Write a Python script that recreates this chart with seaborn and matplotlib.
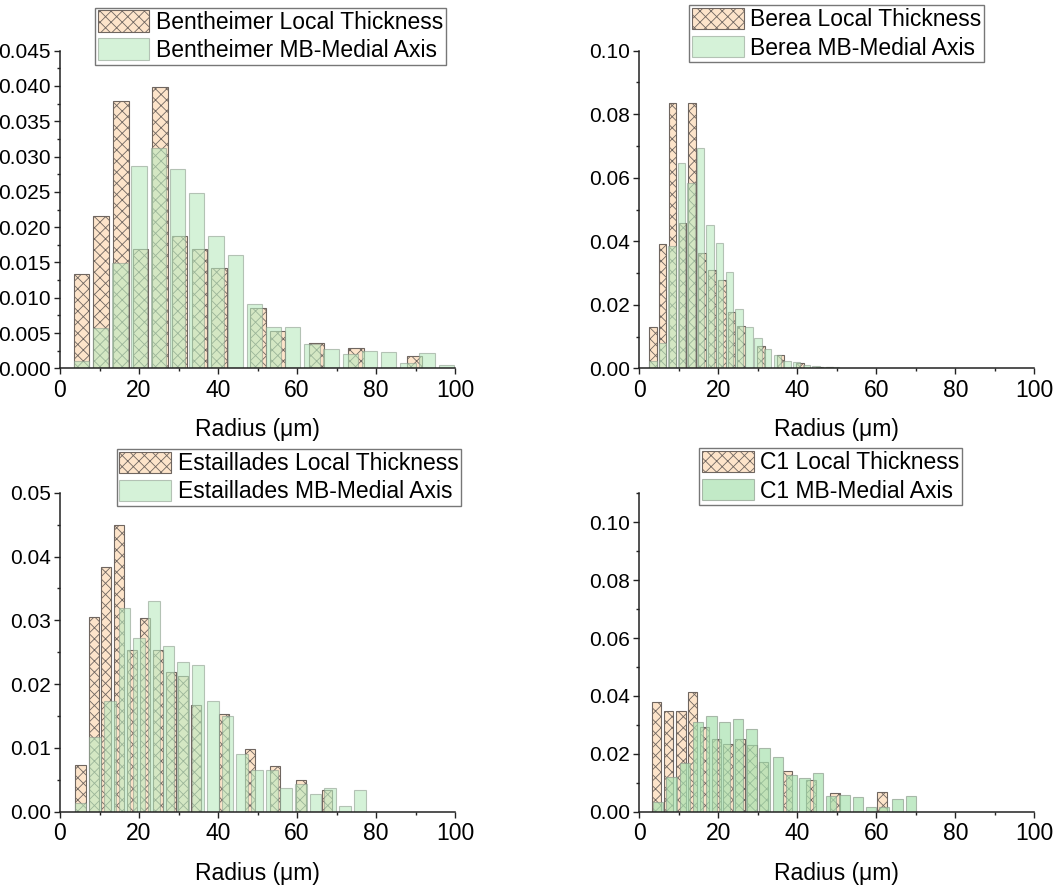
"""Local thickness vs MB-medial axis radius distributions for four rocks."""

import matplotlib
matplotlib.use("Agg")
import matplotlib.pyplot as plt
import matplotlib.patches as mpatches
from matplotlib.ticker import AutoMinorLocator, MultipleLocator
import seaborn as sns

# ---- data (bin centre in um, relative frequency) ----
BEN_LT_X = [5.4, 10.4, 15.4, 20.4, 25.3, 30.3, 35.3, 40.2, 50.1, 55.1, 65.0, 74.9, 89.8]
BEN_LT_Y = [0.0134, 0.0216, 0.0379, 0.0169, 0.0398, 0.0187, 0.0169, 0.0142, 0.0085,
            0.0053, 0.0036, 0.0029, 0.0018]
BEN_MA_X = [5.4, 10.3, 15.2, 20.0, 24.9, 29.8, 34.6, 39.5, 44.4, 49.2, 54.1, 58.9,
            63.8, 68.6, 73.5, 78.4, 83.2, 88.1, 92.9, 97.8]
BEN_MA_Y = [0.0010, 0.0057, 0.0149, 0.0286, 0.0312, 0.0282, 0.0249, 0.0187, 0.0161,
            0.0091, 0.0058, 0.0058, 0.0035, 0.0027, 0.0020, 0.0024, 0.0023, 0.0007,
            0.0021, 0.0004]

BER_LT_X = [3.4, 5.9, 8.4, 10.9, 13.4, 15.9, 18.4, 20.9, 23.3, 25.8, 30.8, 35.7,
            40.7, 45.6, 48.1]
BER_LT_Y = [0.0131, 0.0390, 0.0836, 0.0458, 0.0834, 0.0362, 0.0308, 0.0277, 0.0177,
            0.0132, 0.0070, 0.0041, 0.0016, 0.0005, 0.0004]
BER_MA_X = [3.4, 5.9, 8.3, 10.7, 13.1, 15.5, 17.9, 20.3, 22.8, 25.2, 27.7, 30.1,
            32.5, 35.0, 37.4, 39.8, 42.3, 44.7, 47.2, 49.6]
BER_MA_Y = [0.0023, 0.0079, 0.0386, 0.0647, 0.0585, 0.0694, 0.0452, 0.0396, 0.0304,
            0.0186, 0.0131, 0.0096, 0.0060, 0.0042, 0.0024, 0.0021, 0.0010, 0.0006,
            0.0005, 0.0004]

EST_LT_X = [5.2, 8.5, 11.7, 14.9, 18.2, 21.5, 24.7, 28.0, 31.2, 34.5, 41.5, 48.0,
            54.5, 61.1, 67.7]
EST_LT_Y = [0.0073, 0.0305, 0.0383, 0.0449, 0.0254, 0.0303, 0.0253, 0.0219, 0.0212,
            0.0167, 0.0153, 0.0099, 0.0071, 0.0049, 0.0034]
EST_MA_X = [5.2, 8.9, 12.6, 16.3, 20.0, 23.8, 27.5, 31.2, 35.0, 38.7, 42.4, 46.1,
            49.8, 53.6, 57.3, 61.0, 64.7, 68.4, 72.2, 75.9]
EST_MA_Y = [0.0013, 0.0117, 0.0174, 0.0320, 0.0273, 0.0331, 0.0260, 0.0234, 0.0230,
            0.0173, 0.0150, 0.0091, 0.0066, 0.0065, 0.0037, 0.0043, 0.0028, 0.0037,
            0.0009, 0.0034]

C1_LT_X = [4.4, 7.4, 10.5, 13.5, 16.5, 19.5, 22.5, 25.5, 28.5, 31.5, 37.5, 43.5,
           49.5, 61.5]
C1_LT_Y = [0.0378, 0.0349, 0.0349, 0.0412, 0.0291, 0.0250, 0.0234, 0.0250, 0.0229,
           0.0170, 0.0142, 0.0108, 0.0063, 0.0067]
C1_MA_X = [4.8, 8.2, 11.5, 14.9, 18.3, 21.6, 25.0, 28.4, 31.7, 35.1, 38.5, 41.8,
           45.2, 48.6, 51.9, 55.3, 58.7, 62.0, 65.4, 68.8]
C1_MA_Y = [0.0032, 0.0121, 0.0167, 0.0311, 0.0332, 0.0311, 0.0319, 0.0285, 0.0219,
           0.0190, 0.0127, 0.0115, 0.0132, 0.0055, 0.0056, 0.0052, 0.0015, 0.0017,
           0.0044, 0.0054]

PEACH = "#FDE4CA"
HATCH_EDGE = "#6F6660"
GREEN_LIGHT = "#B9EABF"
GREEN_C1 = "#A8E2B0"


def draw_panel(ax, lt_x, lt_y, ma_x, ma_y, name, green, green_alpha,
               ylim, ymajor, yfmt, legend_box):
    sns.barplot(x=lt_x, y=lt_y, native_scale=True, width=0.8, color=PEACH,
                saturation=1, edgecolor=HATCH_EDGE, linewidth=0.8, hatch="xxx",
                errorbar=None, ax=ax)
    sns.barplot(x=ma_x, y=ma_y, native_scale=True, width=0.8, color=green,
                saturation=1, edgecolor="#8F9F90", linewidth=0.8, alpha=green_alpha,
                errorbar=None, ax=ax)

    ax.set_xlim(0, 100)
    ax.set_ylim(*ylim)
    ax.xaxis.set_major_locator(MultipleLocator(20))
    ax.xaxis.set_minor_locator(AutoMinorLocator(2))
    ax.yaxis.set_major_locator(MultipleLocator(ymajor))
    ax.yaxis.set_minor_locator(AutoMinorLocator(2))
    ax.yaxis.set_major_formatter(plt.FormatStrFormatter(yfmt))
    ax.tick_params(axis="both", which="major", direction="out", length=4.5,
                   width=1.0, color="#222222", labelcolor="black")
    ax.tick_params(axis="both", which="minor", direction="out", length=2.5,
                   width=1.0, color="#222222")
    ax.tick_params(axis="x", labelsize=16.5, pad=3)
    ax.tick_params(axis="y", labelsize=15, pad=2)
    for side in ("left", "bottom"):
        ax.spines[side].set_color("#222222")
        ax.spines[side].set_linewidth(1.1)
    sns.despine(ax=ax)
    ax.set_xlabel("Radius (\u03bcm)", fontsize=16.5, labelpad=12, color="black")
    ax.set_ylabel("")

    handles = [
        mpatches.Patch(facecolor=PEACH, edgecolor=HATCH_EDGE, hatch="xxx",
                       linewidth=0.8, label=f"{name} Local Thickness"),
        mpatches.Patch(facecolor=green, edgecolor="#8F9F90", alpha=green_alpha,
                       linewidth=0.8, label=f"{name} MB-Medial Axis"),
    ]
    leg = ax.legend(handles=handles, loc="upper left", bbox_to_anchor=legend_box,
                    bbox_transform=ax.figure.transFigure, fontsize=16.5,
                    frameon=True, fancybox=False, handlelength=2.25,
                    handleheight=1.05, labelspacing=0.2, handletextpad=0.3,
                    borderpad=0.12, borderaxespad=0)
    leg.get_frame().set_edgecolor("#555555")
    leg.get_frame().set_linewidth(1.0)
    for t in leg.get_texts():
        t.set_color("black")


def main():
    sns.set_theme(style="ticks")
    plt.rcParams["font.family"] = ["Liberation Sans", "DejaVu Sans"]
    plt.rcParams["hatch.linewidth"] = 0.6

    fig = plt.figure(figsize=(10.63, 8.85), dpi=100)
    W, H = 1063, 885
    ax1 = fig.add_axes([60 / W, 1 - 368.3 / H, 395 / W, 317.6 / H])
    ax2 = fig.add_axes([639.3 / W, 1 - 368.3 / H, 395 / W, 317.6 / H])
    ax3 = fig.add_axes([60 / W, 1 - 811.7 / H, 395 / W, 319 / H])
    ax4 = fig.add_axes([639.3 / W, 1 - 811.7 / H, 395 / W, 318.4 / H])

    draw_panel(ax1, BEN_LT_X, BEN_LT_Y, BEN_MA_X, BEN_MA_Y, "Bentheimer",
               GREEN_LIGHT, 0.6, (0, 0.045), 0.005, "%.3f",
               (95 / W, 1 - 7.7 / H))
    draw_panel(ax2, BER_LT_X, BER_LT_Y, BER_MA_X, BER_MA_Y, "Berea",
               GREEN_LIGHT, 0.6, (0, 0.10), 0.02, "%.2f",
               (689.3 / W, 1 - 5.3 / H))
    draw_panel(ax3, EST_LT_X, EST_LT_Y, EST_MA_X, EST_MA_Y, "Estaillades",
               GREEN_LIGHT, 0.6, (0, 0.05), 0.01, "%.2f",
               (116.7 / W, 1 - 449 / H))
    draw_panel(ax4, C1_LT_X, C1_LT_Y, C1_MA_X, C1_MA_Y, "C1",
               GREEN_C1, 0.7, (0, 0.11), 0.02, "%.2f",
               (699.3 / W, 1 - 448.3 / H))
    ax4.set_yticks([0, 0.02, 0.04, 0.06, 0.08, 0.10])

    fig.savefig("out.png", dpi=100, facecolor="white")


if __name__ == "__main__":
    main()
